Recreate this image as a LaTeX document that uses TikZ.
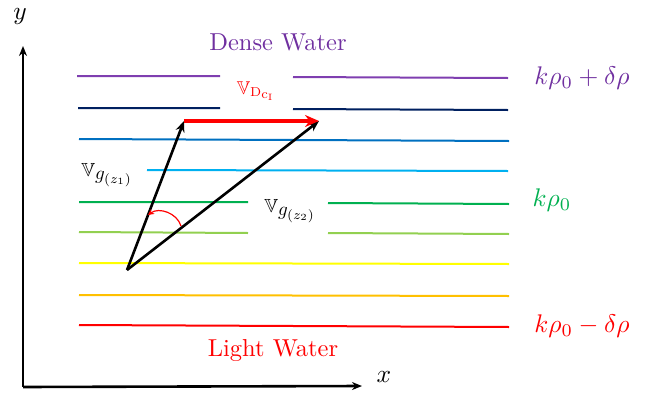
\documentclass[tikz,border=0pt]{standalone}
\usepackage{amssymb}
\usepackage{graphicx}
\usetikzlibrary{arrows.meta}
\definecolor{cpurple}{HTML}{7F3FB0}
\definecolor{tpurple}{HTML}{7030A0}
\definecolor{cnavy}{HTML}{002060}
\definecolor{cblue}{HTML}{0070C0}
\definecolor{clblue}{HTML}{00B0F0}
\definecolor{cgreen}{HTML}{00B050}
\definecolor{clgreen}{HTML}{92D050}
\definecolor{cyellow}{HTML}{FFFF00}
\definecolor{corange}{HTML}{FFC000}
\definecolor{cred}{HTML}{FF0000}
\newcommand{\bigtxt}[1]{\scalebox{2.45}{#1}}
\newcommand{\mtxt}[1]{\scalebox{2.55}{#1}}
\newcommand{\vtxt}[1]{\scalebox{1.9}{#1}}
\newcommand{\dtxt}[1]{\scalebox{1.85}{#1}}
\begin{document}
\begin{tikzpicture}[x=1pt,y=-1pt,
  layer/.style={line width=2pt},
  axis/.style={line width=2.6pt,-{Stealth[length=10pt,width=8pt]}},
  vec/.style={line width=2.6pt,-{Stealth[length=11pt,width=9pt]}}]
\useasboundingbox (0,0) rectangle (646,394);
% axes
\coordinate (O) at (23,387);
\coordinate (Y) at (23,46);
\coordinate (X) at (362,386);
\draw[axis] (O) -- (Y);
\draw[axis] (O) -- (X);
\node (ylab) at (20,16) {\mtxt{$y$}};
\node (xlab) at (384,377) {\mtxt{$x$}};
% layers
\draw[layer,cpurple] (77,76) -- (220,76) (293,77) -- (508,78);
\draw[layer,cnavy] (78,108) -- (220,108) (293,109) -- (508,110);
\draw[layer,cblue] (79,139) -- (509,141);
\draw[layer,clblue] (147,170) -- (508,171);
\draw[layer,cgreen] (79,202) -- (248,202) (328,203) -- (509,204);
\draw[layer,clgreen] (79,232) -- (248,233) (328,233) -- (509,234);
\draw[layer,cyellow] (79,263) -- (509,264);
\draw[layer,corange] (79,295) -- (509,296);
\draw[layer,cred] (79,325) -- (509,327);
% labels
\node[text=tpurple] (dense) at (278,42) {\bigtxt{Dense Water}};
\node[text=cred] (light) at (273,351) {\bigtxt{Light Water}};
\node[text=tpurple] (kp) at (582,78) {\mtxt{$k\rho_0+\delta\rho$}};
\node[text=cgreen] (k0) at (552,200) {\mtxt{$k\rho_0$}};
\node[text=cred] (km) at (582,326) {\mtxt{$k\rho_0-\delta\rho$}};
% vectors
\coordinate (P) at (127,270);
\coordinate (A) at (184,121);
\coordinate (B) at (319,121);
\draw[vec] (P) -- (A);
\draw[vec] (P) -- (B);
\draw[line width=4pt,cred,-{Stealth[length=14pt,width=12pt]}] (A) -- (B);
\coordinate (c1) at (181,226);
\coordinate (c2) at (148,215);
\draw[cred,line width=1.2pt,-{Stealth[length=6pt,width=6pt]}] (c1) to[bend right=55] (c2);
\node[text=cred] (vd) at (256,91) {\dtxt{$\mathbb{V}_{\mathrm{D}_{\scriptstyle \mathrm{c}_{\mathrm{I}}}}$}};
\node (vg1) at (107,175) {\vtxt{$\mathbb{V}_{\textstyle g_{\scriptstyle(z_1)}}$}};
\node (vg2) at (290,211) {\vtxt{$\mathbb{V}_{\textstyle g_{\scriptstyle(z_2)}}$}};
\end{tikzpicture}
\end{document}
